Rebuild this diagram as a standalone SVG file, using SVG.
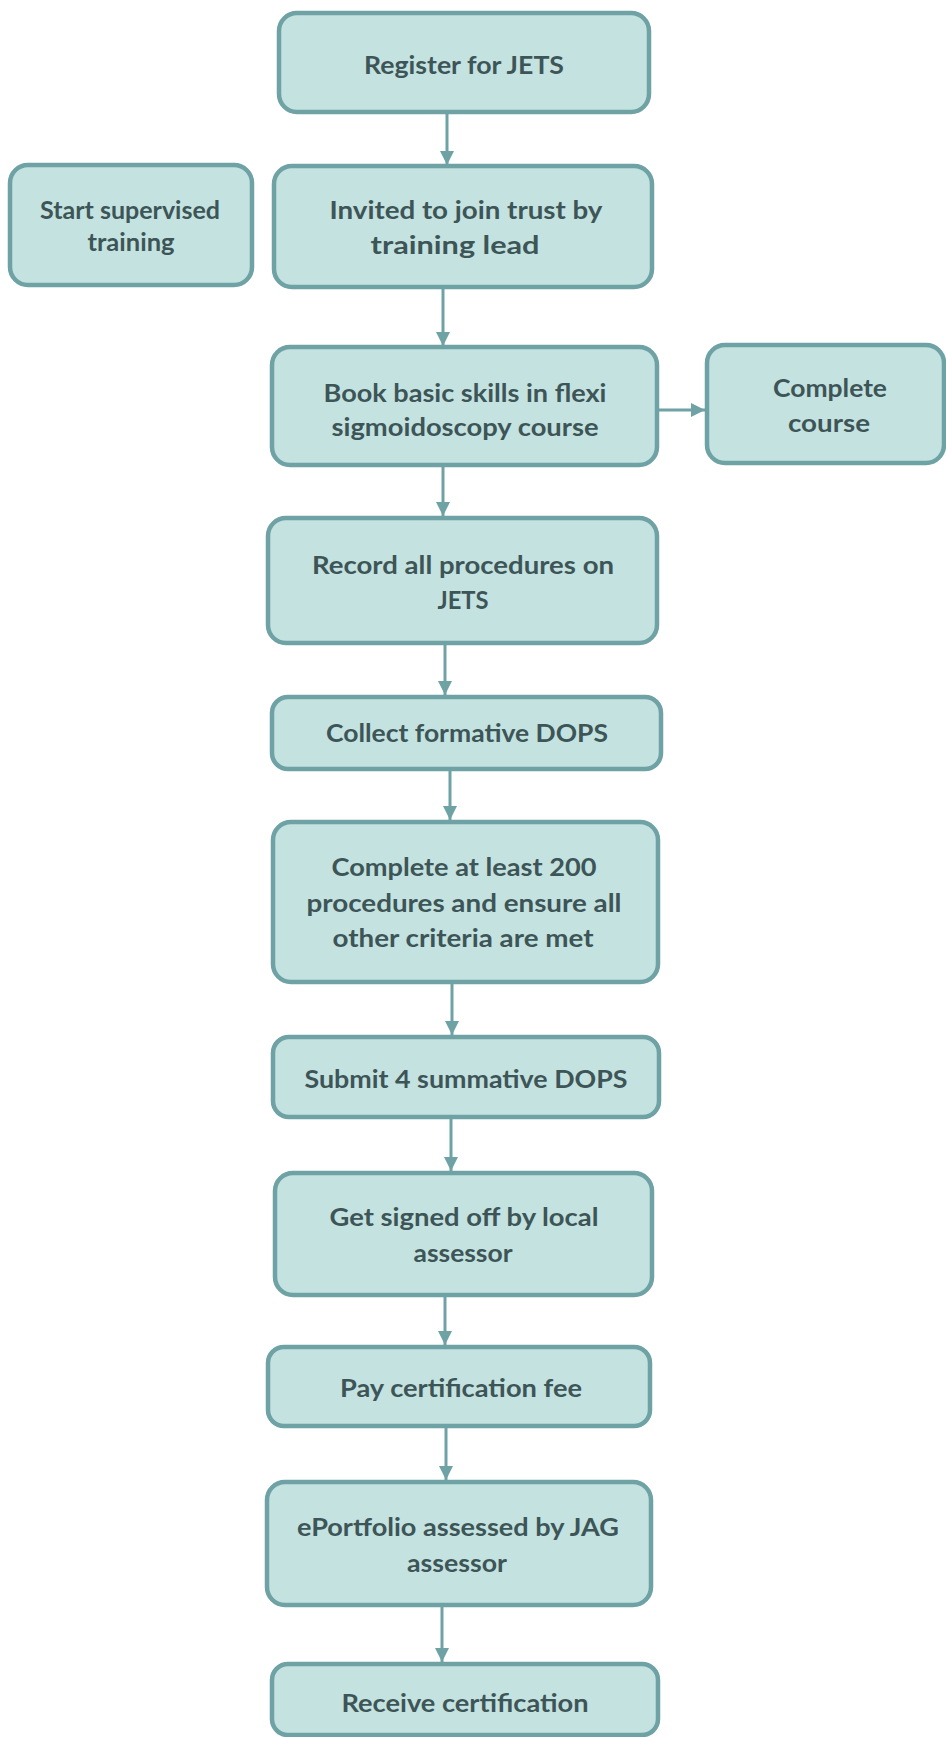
<svg xmlns="http://www.w3.org/2000/svg" width="946" height="1737" viewBox="0 0 946 1737">
<style>
.box{fill:#c4e2e0;stroke:#6fa2a5;stroke-width:4.5}
.t{font-family:Lato,"Open Sans","Liberation Sans",sans-serif;font-weight:700;font-size:25px;fill:#3d5557;text-anchor:middle}
.c{stroke:#6fa2a5;stroke-width:3;fill:none}
</style>
<defs>
<marker id="ah" markerUnits="userSpaceOnUse" markerWidth="14" markerHeight="14" viewBox="0 0 10 10" refX="10" refY="5" orient="auto">
<path d="M0,0 L10,5 L0,10 z" fill="#6fa2a5"/>
</marker>
</defs>
<rect width="946" height="1737" fill="#ffffff"/>
<g id="connectors">
<line class="c" x1="447" y1="112" x2="447" y2="165" marker-end="url(#ah)"/>
<line class="c" x1="443" y1="287" x2="443" y2="346" marker-end="url(#ah)"/>
<line class="c" x1="443" y1="465" x2="443" y2="516" marker-end="url(#ah)"/>
<line class="c" x1="445" y1="643" x2="445" y2="695" marker-end="url(#ah)"/>
<line class="c" x1="450" y1="769" x2="450" y2="820" marker-end="url(#ah)"/>
<line class="c" x1="452" y1="982" x2="452" y2="1035" marker-end="url(#ah)"/>
<line class="c" x1="451" y1="1117" x2="451" y2="1171" marker-end="url(#ah)"/>
<line class="c" x1="445" y1="1295" x2="445" y2="1345" marker-end="url(#ah)"/>
<line class="c" x1="446" y1="1426" x2="446" y2="1480" marker-end="url(#ah)"/>
<line class="c" x1="442" y1="1605" x2="442" y2="1662" marker-end="url(#ah)"/>
<line class="c" x1="657" y1="410" x2="705" y2="410" marker-end="url(#ah)"/>
</g>
<g id="n1"><rect class="box" x="279" y="13" width="370" height="99" rx="18"/>
<text class="t" x="464" y="74" textLength="200" lengthAdjust="spacingAndGlyphs">Register for JETS</text></g>
<g id="n2"><rect class="box" x="10" y="165" width="242" height="120" rx="18"/>
<text class="t" x="130" y="219" textLength="180" lengthAdjust="spacingAndGlyphs">Start supervised</text>
<text class="t" x="131" y="251" textLength="87" lengthAdjust="spacingAndGlyphs">training</text></g>
<g id="n3"><rect class="box" x="274" y="166" width="378" height="121" rx="18"/>
<text class="t" x="466" y="219" textLength="273" lengthAdjust="spacingAndGlyphs">Invited to join trust by</text>
<text class="t" x="455" y="254" textLength="169" lengthAdjust="spacingAndGlyphs">training lead</text></g>
<g id="n4"><rect class="box" x="272" y="347" width="385" height="118" rx="18"/>
<text class="t" x="465" y="402" textLength="283" lengthAdjust="spacingAndGlyphs">Book basic skills in flexi</text>
<text class="t" x="465" y="436" textLength="267" lengthAdjust="spacingAndGlyphs">sigmoidoscopy course</text></g>
<g id="n5"><rect class="box" x="707" y="345" width="237" height="118" rx="18"/>
<text class="t" x="830" y="397" textLength="114" lengthAdjust="spacingAndGlyphs">Complete</text>
<text class="t" x="829" y="432" textLength="82" lengthAdjust="spacingAndGlyphs">course</text></g>
<g id="n6"><rect class="box" x="268" y="518" width="389" height="125" rx="18"/>
<text class="t" x="463" y="574" textLength="302" lengthAdjust="spacingAndGlyphs">Record all procedures on</text>
<text class="t" x="463" y="609" textLength="51" lengthAdjust="spacingAndGlyphs">JETS</text></g>
<g id="n7"><rect class="box" x="272" y="697" width="389" height="72" rx="16"/>
<text class="t" x="467" y="742" textLength="282" lengthAdjust="spacingAndGlyphs">Collect formative DOPS</text></g>
<g id="n8"><rect class="box" x="273" y="822" width="385" height="160" rx="18"/>
<text class="t" x="464" y="876" textLength="265" lengthAdjust="spacingAndGlyphs">Complete at least 200</text>
<text class="t" x="464" y="912" textLength="315" lengthAdjust="spacingAndGlyphs">procedures and ensure all</text>
<text class="t" x="463" y="947" textLength="261" lengthAdjust="spacingAndGlyphs">other criteria are met</text></g>
<g id="n9"><rect class="box" x="273" y="1037" width="386" height="80" rx="16"/>
<text class="t" x="466" y="1088" textLength="323" lengthAdjust="spacingAndGlyphs">Submit 4 summative DOPS</text></g>
<g id="n10"><rect class="box" x="275" y="1173" width="377" height="122" rx="18"/>
<text class="t" x="464" y="1226" textLength="269" lengthAdjust="spacingAndGlyphs">Get signed off by local</text>
<text class="t" x="463" y="1262" textLength="99" lengthAdjust="spacingAndGlyphs">assessor</text></g>
<g id="n11"><rect class="box" x="268" y="1347" width="382" height="79" rx="16"/>
<text class="t" x="461" y="1397" textLength="242" lengthAdjust="spacingAndGlyphs">Pay certification fee</text></g>
<g id="n12"><rect class="box" x="267" y="1482" width="384" height="123" rx="18"/>
<text class="t" x="458" y="1536" textLength="322" lengthAdjust="spacingAndGlyphs">ePortfolio assessed by JAG</text>
<text class="t" x="457" y="1572" textLength="100" lengthAdjust="spacingAndGlyphs">assessor</text></g>
<g id="n13"><rect class="box" x="272" y="1664" width="386" height="71" rx="16"/>
<text class="t" x="465" y="1712" textLength="247" lengthAdjust="spacingAndGlyphs">Receive certification</text></g>
</svg>
